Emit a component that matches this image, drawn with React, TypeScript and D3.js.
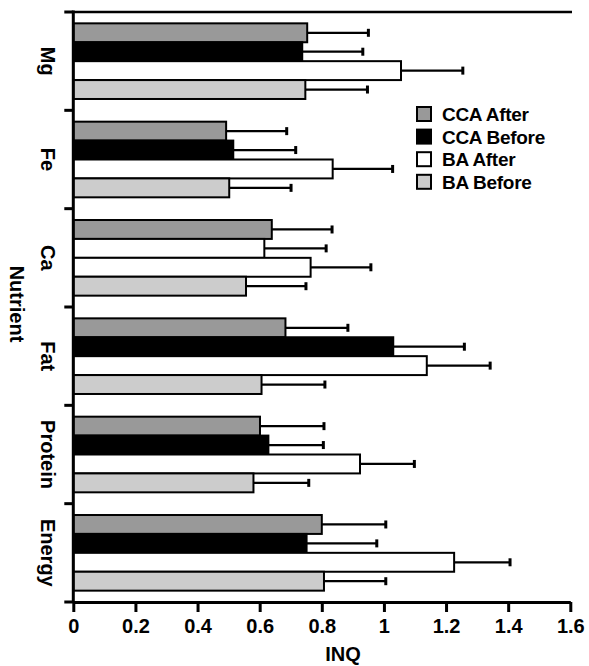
import * as d3 from 'd3';
import { useEffect, useRef } from 'react';

// Nutrient groups, top to bottom
const nutrients = ['Mg', 'Fe', 'Ca', 'Fat', 'Protein', 'Energy'];

// Series, in the order the bars appear inside each group
const seriesNames = ['CCA After', 'CCA Before', 'BA After', 'BA Before'];

// INQ mean per nutrient (same order as nutrients)
const ccaAfter = [0.753, 0.492, 0.639, 0.683, 0.601, 0.800];
const ccaBefore = [0.737, 0.515, 0.615, 1.030, 0.628, 0.751];
const baAfter = [1.055, 0.835, 0.764, 1.138, 0.923, 1.226];
const baBefore = [0.747, 0.502, 0.556, 0.606, 0.580, 0.807];

// upper end of each error bar
const ccaAfterErr = [0.950, 0.687, 0.833, 0.884, 0.807, 1.006];
const ccaBeforeErr = [0.932, 0.716, 0.814, 1.259, 0.805, 0.977];
const baAfterErr = [1.254, 1.028, 0.958, 1.342, 1.098, 1.406];
const baBeforeErr = [0.947, 0.701, 0.749, 0.810, 0.758, 1.006];

const xTicks = [0, 0.2, 0.4, 0.6, 0.8, 1, 1.2, 1.4, 1.6];
const xTickLabels = ['0', '0.2', '0.4', '0.6', '0.8', '1', '1.2', '1.4', '1.6'];

const fills = ['#999999', '#000000', '#ffffff', '#cccccc'];
const FONT = '"Liberation Sans", Arial, sans-serif';

export default function App() {
    const chartRef = useRef(null);

    useEffect(() => {
        const width = 589;
        const height = 666;
        const left = 73.3;
        const right = 570.3;
        const top = 12;
        const bottom = 602;

        const means = [ccaAfter, ccaBefore, baAfter, baBefore];
        const errs = [ccaAfterErr, ccaBeforeErr, baAfterErr, baBeforeErr];

        const rows = nutrients.flatMap((n, i) =>
            seriesNames.map((s, j) => ({
                nutrient: n,
                series: s,
                idx: j,
                value: means[j][i],
                err: errs[j][i],
            }))
        );

        const x = d3.scaleLinear().domain([0, 1.6]).range([left, right]);
        const y = d3.scaleBand().domain(nutrients).range([top, bottom]).padding(0);
        const ySub = d3
            .scaleBand()
            .domain(seriesNames)
            .range([0, y.bandwidth()])
            .paddingInner(0)
            .paddingOuter(0.6);

        const root = d3.select(chartRef.current);
        root.selectAll('*').remove();

        const svg = root
            .append('svg')
            .attr('width', width)
            .attr('height', height)
            .style('position', 'absolute')
            .style('left', '0px')
            .style('top', '0px')
            .style('background', '#fff')
            .style('font-family', FONT);

        // error bars (behind the bars)
        const eb = svg
            .append('g')
            .selectAll('g')
            .data(rows)
            .join('g')
            .attr('transform', (d) => `translate(0,${y(d.nutrient)! + ySub(d.series)! + ySub.bandwidth() / 2})`);
        eb.append('line')
            .attr('x1', (d) => x(d.value))
            .attr('x2', (d) => x(d.err))
            .attr('stroke', '#000')
            .attr('stroke-width', 2.2);
        eb.append('line')
            .attr('x1', (d) => x(d.err))
            .attr('x2', (d) => x(d.err))
            .attr('y1', -4)
            .attr('y2', 4)
            .attr('stroke', '#000')
            .attr('stroke-width', 3);

        // bars
        svg
            .append('g')
            .selectAll('rect')
            .data(rows)
            .join('rect')
            .attr('x', x(0))
            .attr('y', (d) => y(d.nutrient)! + ySub(d.series)!)
            .attr('width', (d) => x(d.value) - x(0))
            .attr('height', ySub.bandwidth())
            // the source figure leaves Ca / CCA Before unfilled
            .attr('fill', (d) => (d.nutrient === 'Ca' && d.idx === 1 ? '#ffffff' : fills[d.idx]))
            .attr('stroke', '#000')
            .attr('stroke-width', 2);

        // X axis
        const xAxis = svg
            .append('g')
            .attr('transform', `translate(0,${bottom})`)
            .call(
                d3
                    .axisBottom(x)
                    .tickValues(xTicks)
                    .tickFormat((d, i) => xTickLabels[i])
                    .tickSize(10)
                    .tickSizeOuter(0)
                    .tickPadding(7)
            );
        xAxis.select('.domain').attr('stroke-width', 3);
        xAxis.selectAll('.tick line').attr('stroke-width', 3);
        xAxis
            .selectAll('text')
            .attr('font-family', FONT)
            .attr('font-size', 20)
            .attr('font-weight', 'bold')
            .attr('fill', '#000');

        // Y axis line, boundary ticks and the top rule
        svg.append('line')
            .attr('x1', left).attr('x2', left)
            .attr('y1', top - 1.5).attr('y2', bottom)
            .attr('stroke', '#000').attr('stroke-width', 3);
        svg.append('line')
            .attr('x1', left).attr('x2', 572)
            .attr('y1', top).attr('y2', top)
            .attr('stroke', '#000').attr('stroke-width', 2.5);
        const bounds = nutrients.map((n) => y(n)!).concat([bottom]);
        svg.append('g')
            .selectAll('line')
            .data(bounds)
            .join('line')
            .attr('x1', left - 9)
            .attr('x2', left)
            .attr('y1', (d) => d)
            .attr('y2', (d) => d)
            .attr('stroke', '#000')
            .attr('stroke-width', 3);

        // category labels, rotated to read downwards
        svg.append('g')
            .selectAll('text')
            .data(nutrients)
            .join('text')
            .attr('transform', (d) => `translate(41,${y(d)! + y.bandwidth() / 2}) rotate(90)`)
            .attr('text-anchor', 'middle')
            .attr('font-size', 20)
            .attr('font-weight', 'bold')
            .text((d) => d);

        // axis titles
        svg.append('text')
            .attr('transform', 'translate(10,304) rotate(90)')
            .attr('text-anchor', 'middle')
            .attr('font-size', 20)
            .attr('font-weight', 'bold')
            .text('Nutrient');
        svg.append('text')
            .attr('x', 343)
            .attr('y', 661)
            .attr('text-anchor', 'middle')
            .attr('font-size', 20)
            .attr('font-weight', 'bold')
            .text('INQ');

        // legend
        const legend = svg
            .append('g')
            .selectAll('g')
            .data(seriesNames)
            .join('g')
            .attr('transform', (d, i) => `translate(417,${121 + i * 22.6})`);
        legend.append('rect')
            .attr('x', 0)
            .attr('y', -14)
            .attr('width', 14)
            .attr('height', 14)
            .attr('fill', (d, i) => fills[i])
            .attr('stroke', '#000')
            .attr('stroke-width', 2);
        legend.append('text')
            .attr('x', 25)
            .attr('y', 0)
            .attr('font-size', 19)
            .attr('font-weight', 'bold')
            .attr('letter-spacing', -0.3)
            .text((d) => d);

        return () => {
            d3.select(chartRef.current).selectAll('*').remove();
        };
    }, []);

    return <div ref={chartRef}></div>;
}
